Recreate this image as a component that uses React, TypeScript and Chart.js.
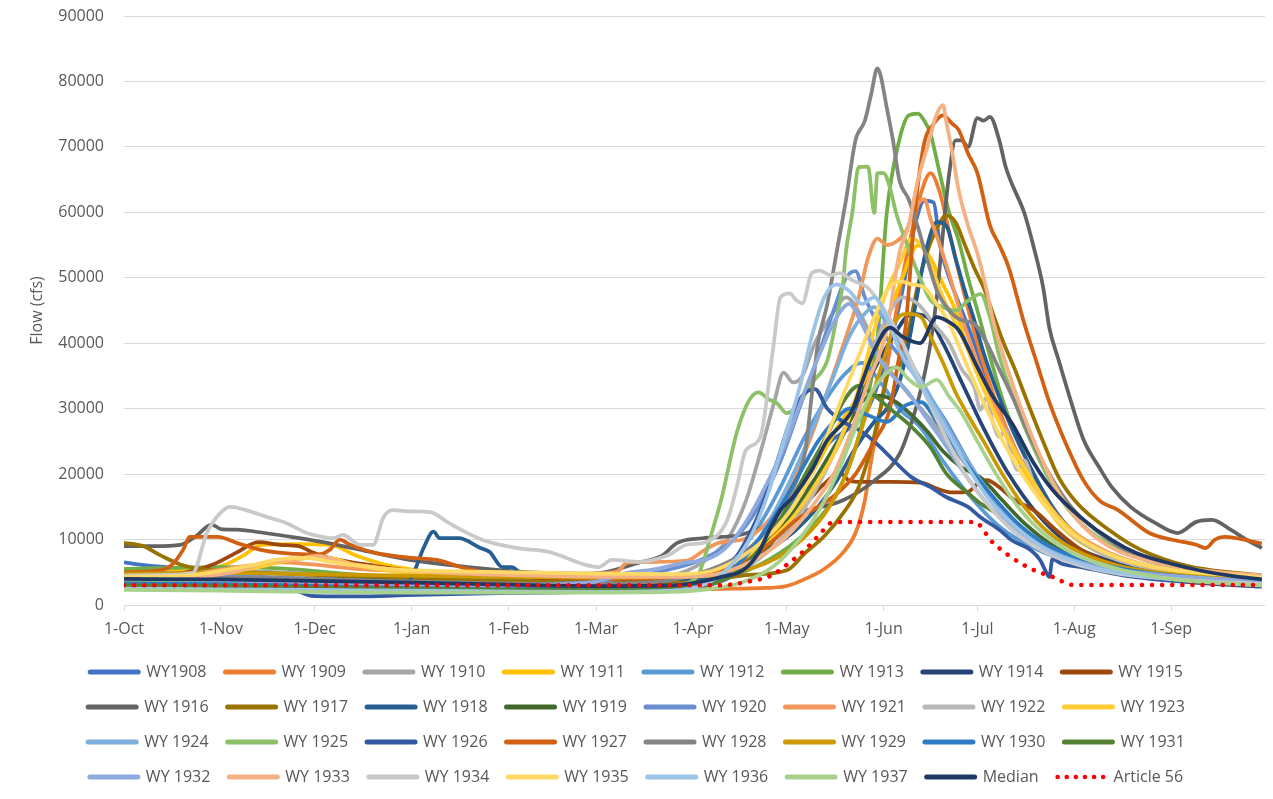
import React, { useEffect, useRef } from 'react';
import { Chart, registerables } from 'chart.js';

Chart.register(...registerables);

// ---- axis categories ----
const MONTH_DAYS = [0, 31, 61, 92, 123, 151, 182, 212, 243, 273, 304, 335];
const MONTH_LABELS = ['1-Oct', '1-Nov', '1-Dec', '1-Jan', '1-Feb', '1-Mar', '1-Apr', '1-May', '1-Jun', '1-Jul', '1-Aug', '1-Sep'];
const Y_MAX = 90000;
const Y_STEP = 10000;

// ---- series values: [day of water year, flow cfs] ----
const WY1908 = [[0,6500],[8,6000],[20,5500],[40,4500],[60,3500],[75,2500],[90,2400],[120,2300],[150,2200],[175,2400],[185,2800],[195,4500],[202,7000],[208,11000],[214,16000],[220,21000],[226,25000],[232,27000],[238,30000],[244,38000],[249,48000],[253,58000],[256,61800],[259,61500],[261,55000],[264,50000],[268,45000],[272,40000],[277,33000],[283,26000],[290,19000],[298,13500],[308,9500],[320,7000],[335,5200],[350,4300],[364,3800]];
const WY1909 = [[0,4200],[30,4000],[60,3700],[90,3400],[120,3000],[150,2700],[180,2400],[195,2500],[205,2600],[212,2900],[218,4000],[224,5500],[230,8000],[234,11000],[237,16000],[239,22000],[241,27000],[243,33000],[246,42000],[249,50000],[252,57000],[255,63000],[258,66000],[261,63000],[264,57000],[268,49000],[273,40000],[279,31000],[286,23000],[294,16000],[303,11000],[315,7500],[330,5500],[345,4600],[364,4000]];
const WY1910 = [[0,5000],[30,5200],[60,4800],[90,4200],[120,3800],[150,3600],[175,4500],[185,6500],[193,10000],[199,16000],[204,24000],[208,31000],[211,35500],[214,34000],[217,35000],[221,40000],[226,44000],[231,47000],[236,44000],[242,38000],[248,34000],[255,30000],[262,26000],[270,21000],[280,15000],[290,10500],[302,7500],[318,5500],[335,4500],[364,3800]];
const WY1911 = [[0,5500],[20,5500],[30,5800],[38,7500],[44,9200],[55,9300],[66,9200],[74,7600],[84,6100],[100,5000],[125,4600],[150,4300],[175,4200],[190,4800],[200,7000],[210,12000],[220,20000],[228,27000],[236,33000],[243,42000],[249,50000],[254,55000],[258,53000],[262,49000],[266,45000],[270,39000],[276,32000],[283,25000],[291,18000],[300,12000],[312,8000],[328,5500],[345,4500],[364,3800]];
const WY1912 = [[0,4500],[30,4300],[60,3600],[90,3000],[120,2800],[150,2700],[175,3000],[185,4000],[195,7000],[203,12000],[210,18000],[217,25000],[224,31000],[230,35000],[236,37000],[242,34000],[248,30000],[255,27000],[262,22000],[270,17000],[280,12000],[292,8500],[305,6300],[320,5000],[340,4200],[364,3500]];
const WY1913 = [[0,5500],[30,5800],[50,5600],[70,4800],[100,4000],[130,3600],[160,3300],[180,3400],[195,4500],[210,8000],[220,12000],[228,17000],[234,24000],[238,32000],[241,40500],[244,59900],[248,71000],[251,74800],[254,75100],[256,74000],[258,72000],[260,68000],[262,63800],[264,59900],[267,55700],[270,50000],[273,45000],[277,38000],[282,30000],[288,23000],[295,16000],[304,11000],[315,7500],[330,5500],[345,4600],[364,4000]];
const WY1914 = [[0,3800],[30,3700],[60,3500],[90,3300],[120,3000],[150,2900],[175,3100],[190,4000],[200,6500],[208,10000],[215,14000],[222,19000],[228,24000],[234,30000],[240,36000],[246,41000],[252,44500],[257,44000],[262,40000],[268,34000],[275,27000],[283,20000],[292,14000],[302,9500],[315,6800],[330,5200],[345,4400],[364,3700]];
const WY1915 = [[0,4500],[20,5000],[28,6100],[36,8000],[43,9600],[50,9200],[56,9000],[60,8100],[65,7300],[80,6000],[100,4800],[130,4200],[160,3800],[180,3800],[192,5000],[200,7000],[207,10000],[213,13000],[219,16000],[224,18500],[229,20200],[232,19000],[236,18800],[245,18800],[255,18700],[260,17800],[265,17200],[270,17300],[273,18500],[276,19100],[280,18000],[285,16000],[291,14500],[298,11500],[306,8500],[318,6000],[335,4500],[364,3500]];
const WY1916 = [[0,9000],[10,9000],[18,9200],[23,10500],[28,12300],[31,11600],[36,11500],[45,11000],[55,10300],[65,9500],[75,8500],[90,7000],[110,5800],[130,5000],[150,4800],[165,6500],[172,7500],[177,9500],[185,10200],[197,10700],[205,12000],[215,14000],[230,16000],[240,19000],[248,23000],[252,28000],[255,33000],[258,40000],[260,47000],[262,57000],[264,66000],[266,71000],[268,71000],[270,70000],[273,74400],[275,74000],[277,74600],[280,71000],[282,67000],[284,64400],[288,59900],[291,54700],[294,48600],[296,42400],[299,37400],[303,31000],[307,25200],[312,21000],[316,18000],[322,15000],[330,12500],[337,11000],[343,12700],[348,13000],[354,11500],[359,10000],[364,8700]];
const WY1917 = [[0,9500],[6,9000],[12,7500],[18,6200],[25,5500],[40,5000],[60,4600],[90,4000],[120,3700],[150,3500],[175,3600],[190,4000],[200,4600],[212,5300],[218,8000],[224,10500],[230,14000],[235,18000],[239,24000],[242,30000],[245,36000],[248,36500],[251,42000],[254,49000],[257,54000],[260,57500],[263,59500],[266,58500],[269,55000],[272,51500],[275,48500],[278,44500],[281,40500],[285,36000],[289,31000],[294,25000],[299,19500],[305,15500],[315,11500],[325,8500],[340,6000],[364,4500]];
const WY1918 = [[0,4300],[30,4200],[60,4000],[85,3700],[91,3600],[93,5300],[96,8900],[99,11200],[101,10200],[107,10200],[114,8700],[117,8100],[121,5800],[124,5800],[127,4900],[140,4300],[160,4000],[180,4000],[190,4500],[200,6500],[208,9000],[215,11500],[222,15000],[228,19000],[234,24000],[240,28000],[244,30000],[248,34000],[251,40000],[254,48000],[257,55000],[260,58500],[263,58000],[266,53000],[269,48000],[272,43500],[275,38500],[279,33000],[284,27000],[290,21000],[297,15000],[305,10500],[318,7000],[335,5200],[364,4000]];
const WY1919 = [[0,4000],[30,4200],[60,3800],[90,3300],[120,3000],[150,2900],[175,3100],[190,3800],[200,6000],[208,10000],[215,15000],[222,20000],[227,24000],[232,28000],[237,31500],[242,32000],[247,31000],[252,29000],[257,26500],[262,23500],[268,21000],[274,19500],[280,16500],[288,12500],[298,8800],[310,6200],[325,4800],[345,3900],[364,3400]];
const WY1920 = [[0,4800],[30,4500],[60,4000],[90,3500],[120,3200],[150,3500],[165,4500],[175,5500],[185,7000],[195,10000],[203,15000],[210,22000],[216,30000],[222,38000],[227,45000],[231,50000],[234,51000],[237,47000],[240,44000],[245,40000],[250,37000],[256,33000],[263,28000],[270,22000],[278,16000],[287,11500],[298,8200],[312,6000],[330,4800],[364,3800]];
const WY1921 = [[0,4500],[20,4800],[40,6000],[50,6500],[60,6200],[75,5500],[90,5200],[110,4800],[130,4600],[150,4800],[158,5200],[161,6500],[170,6600],[180,6800],[186,8500],[191,9600],[197,9900],[202,11000],[208,14000],[214,19000],[220,26000],[226,34000],[231,41000],[235,47000],[238,53000],[241,56000],[244,55000],[247,55500],[250,57000],[253,60500],[256,62000],[258,59000],[261,55000],[264,50500],[268,44000],[273,37000],[279,30000],[286,23000],[294,16500],[303,11500],[315,8000],[330,5800],[348,4700],[364,4200]];
const WY1922 = [[0,3500],[30,3600],[60,3400],[90,3000],[120,2800],[150,2700],[175,3000],[190,4000],[200,6000],[210,10000],[218,15000],[226,22000],[233,30000],[239,38000],[244,44000],[249,47000],[254,46000],[259,43000],[264,40000],[268,36000],[272,33300],[274,29800],[276,31800],[278,27800],[280,25700],[282,26700],[284,22600],[286,20600],[288,22100],[291,18600],[296,14500],[304,10500],[316,7200],[333,5200],[364,3800]];
const WY1923 = [[0,4500],[20,4600],[40,5500],[55,7000],[65,7200],[75,6000],[90,5000],[120,4800],[150,4700],[175,4500],[188,5000],[198,7000],[207,10000],[215,14000],[222,19000],[229,25000],[235,33000],[240,42000],[244,48000],[248,52000],[252,56000],[255,55000],[258,52000],[262,47000],[266,43000],[270,39000],[275,33000],[281,27000],[288,21000],[296,15000],[305,10500],[318,7200],[335,5300],[364,4000]];
const WY1924 = [[0,3000],[30,2800],[60,2600],[90,2400],[120,2300],[150,2200],[175,2500],[188,3500],[196,6000],[203,10000],[210,16000],[216,22000],[222,29000],[227,35000],[232,41000],[236,44000],[240,45500],[244,43000],[248,40000],[253,36000],[259,31000],[266,25000],[274,19000],[283,13500],[293,9500],[305,6800],[320,5000],[340,4000],[364,3200]];
const WY1925 = [[0,3500],[30,3400],[60,3200],[90,3000],[120,2800],[150,2700],[175,3000],[181,3500],[184,4900],[188,11000],[191,16000],[196,26300],[200,31300],[203,32500],[206,31500],[209,30800],[212,29300],[216,30800],[220,33900],[225,37400],[228,44000],[230,49200],[231,54200],[233,60000],[235,66900],[238,67000],[240,59900],[241,66000],[243,66000],[245,63800],[247,59900],[250,55700],[254,50700],[258,46600],[262,45500],[266,45000],[270,46500],[274,47500],[277,44000],[280,38000],[285,31000],[291,24000],[298,17500],[306,12500],[318,8500],[335,5800],[364,3800]];
const WY1926 = [[0,3200],[30,3000],[55,2200],[60,1400],[75,1300],[90,1500],[120,1800],[150,2000],[175,2300],[185,3000],[192,5000],[198,9000],[204,15000],[209,22000],[213,28000],[217,32000],[221,33000],[225,30000],[230,28000],[236,26500],[242,24100],[247,21700],[252,19500],[258,18000],[263,16500],[270,15000],[274,13400],[280,11500],[284,9900],[290,8400],[293,6900],[295,5000],[296,4300],[297,7000],[300,6300],[306,5800],[320,4500],[340,3500],[364,2800]];
const WY1927 = [[0,5000],[10,5200],[15,6000],[19,8500],[21,10400],[30,10400],[36,9500],[45,8300],[55,7800],[62,7700],[66,8500],[69,10000],[72,9300],[80,8000],[92,7200],[100,6900],[110,5500],[120,4700],[140,4200],[160,4000],[178,4200],[190,5000],[200,7000],[208,10000],[215,13000],[222,15000],[228,17000],[234,20000],[240,25000],[245,30000],[248,38000],[250,42400],[253,60000],[256,70600],[259,73500],[262,74800],[265,73500],[267,72600],[270,69000],[273,66000],[277,58000],[280,55000],[283,51600],[288,43000],[292,37000],[296,31000],[301,25000],[307,19000],[312,16000],[318,14500],[328,11000],[335,10000],[343,9200],[346,8700],[349,10000],[352,10400],[356,10200],[360,9800],[364,9400]];
const WY1928 = [[0,4000],[30,4200],[60,4000],[90,3600],[120,3300],[150,3200],[175,3800],[185,5000],[195,7000],[203,10000],[208,13000],[212,16000],[216,20000],[218,23700],[220,32000],[222,40000],[225,46000],[228,54000],[231,62000],[234,71000],[237,74000],[239,78000],[241,82000],[242,81000],[244,76000],[246,71000],[248,65000],[251,62000],[254,57700],[257,52700],[260,48100],[264,45000],[268,43500],[272,43000],[276,40000],[280,36000],[285,31000],[290,25500],[296,20000],[303,15000],[312,11000],[322,8000],[335,6000],[350,4800],[364,4200]];
const WY1929 = [[0,4800],[30,4900],[60,4700],[90,4500],[120,4300],[150,4200],[175,4300],[190,4600],[200,5500],[210,7500],[218,10500],[225,14500],[231,20000],[236,27000],[240,33000],[244,39000],[247,43500],[251,44500],[255,44000],[258,41000],[262,37000],[266,32500],[270,29000],[275,25000],[281,20000],[288,15000],[296,11000],[306,8000],[320,5800],[340,4500],[364,3800]];
const WY1930 = [[0,3300],[30,3200],[60,3000],[90,2800],[120,2600],[150,2500],[175,2700],[188,3500],[196,6000],[203,10000],[210,15000],[216,20000],[222,25000],[227,28000],[232,30000],[238,29000],[244,28000],[250,30500],[255,31000],[260,28000],[266,24000],[272,20000],[279,16000],[287,12000],[296,9000],[308,6800],[322,5300],[340,4300],[364,3500]];
const WY1931 = [[0,3000],[30,2900],[60,2700],[90,2500],[120,2400],[150,2300],[175,2500],[188,3200],[196,5000],[204,9000],[211,14000],[218,20000],[225,26000],[230,31000],[235,33500],[240,32000],[245,30000],[252,27200],[258,24100],[263,20100],[270,17100],[274,15500],[279,14000],[287,11000],[296,8200],[308,6000],[322,4700],[340,3700],[364,3100]];
const WY1932 = [[0,4000],[30,3800],[60,3500],[90,3200],[120,3000],[150,3500],[160,4800],[170,5500],[180,6500],[186,6900],[192,8500],[198,12000],[204,17000],[211,24000],[218,33000],[224,40000],[228,44000],[232,46000],[236,43000],[240,39000],[244,36000],[250,33000],[256,29000],[262,25000],[269,20000],[277,15000],[286,11000],[297,8000],[310,6000],[330,4700],[364,3600]];
const WY1933 = [[0,4000],[20,4200],[35,5000],[45,6500],[55,7000],[62,7500],[70,6500],[85,5500],[100,5000],[130,4500],[160,4300],[180,4300],[192,5000],[202,7000],[212,10500],[220,15000],[227,20000],[233,27000],[238,34000],[244,42000],[248,53700],[251,58000],[254,65000],[257,70000],[260,75000],[262,76400],[263,74000],[265,69000],[267,63400],[270,58000],[273,53700],[276,48000],[278,43500],[282,37000],[287,30000],[292,24000],[298,18000],[305,13000],[315,9000],[330,6500],[345,5300],[364,4500]];
const WY1934 = [[0,4500],[15,4600],[22,4900],[26.5,11000],[30.7,14000],[34,15000],[39,14500],[46,13400],[52,12500],[58.5,11000],[63.7,10400],[67,10200],[70,10700],[75.5,9200],[79.7,9200],[83,13400],[86,14500],[92,14300],[98,14200],[104,12500],[115,9900],[126,8700],[136,8100],[148,6100],[152,5800],[156,6900],[165,6600],[174,7600],[180,9200],[186,9600],[193,13000],[196,18000],[199,23700],[203.5,25600],[207.6,39000],[210,47000],[213,47600],[215,46600],[217,46100],[220,50700],[222.6,51100],[226,50400],[229,50700],[233,49600],[237.6,48600],[242,46000],[247,42000],[252,37000],[257,31500],[263,25500],[269,20000],[276,15500],[284,11500],[293,8500],[304,6300],[318,4800],[340,3800],[364,3200]];
const WY1935 = [[0,4300],[20,4500],[40,6000],[50,7000],[58,7200],[66,6600],[75,6000],[85,5500],[100,5200],[125,5000],[150,4800],[175,4700],[188,5200],[198,7500],[207,11000],[214,15000],[220,20000],[225,26000],[230,32000],[235,38000],[240,44000],[244,48000],[248,49500],[252,49000],[256,48500],[260,46000],[264,43000],[268,38500],[273,33000],[279,27000],[286,21000],[294,15500],[303,11000],[315,7800],[330,5800],[364,4200]];
const WY1936 = [[0,2500],[30,2400],[60,2300],[90,2200],[120,2100],[150,2000],[175,2200],[185,3000],[193,5500],[200,10000],[206,17000],[211,25000],[216,33000],[220,41000],[224,47000],[228,49000],[232,48000],[236,46000],[240,47000],[244,44000],[248,39000],[253,35000],[258,31000],[264,26000],[270,21000],[277,16000],[285,12000],[295,8500],[308,6000],[325,4500],[345,3600],[364,3000]];
const WY1937 = [[0,2300],[30,2200],[60,2000],[90,1900],[120,1900],[150,1900],[175,2000],[188,2500],[198,3500],[208,6000],[216,10000],[223,15000],[229,21000],[234,27000],[239,32400],[243,35000],[247,36300],[251,34500],[255,33300],[260,34400],[264,31800],[268,29300],[273,25000],[279,20000],[286,15000],[294,11000],[304,7800],[318,5500],[335,4000],[364,3000]];
const MEDIAN = [[0,4000],[30,3900],[60,3700],[92,3400],[123,3100],[151,2900],[175,3000],[184,3500],[191,4300],[198,5300],[203,8000],[206,11000],[210,14500],[214,16500],[220,20600],[225,25200],[230,27800],[233,29800],[236,33900],[240,38900],[245,42400],[249,41000],[254.6,40000],[260,44000],[263,43500],[267,42000],[273,36300],[278,31800],[284,27800],[291,21700],[297,17600],[306,13400],[316,9900],[324,7900],[335,6300],[345,5200],[355,4400],[364,3900]];
const ARTICLE56 = [[0,3000],[190,3000],[200,3600],[207,4500],[213,6500],[218,8500],[222,10500],[226,12500],[228,12700],[272,12700],[278,9500],[289,5800],[297,4300],[304,3050],[364,3050]];

const SERIES_LABELS = ['WY1908','WY 1909','WY 1910','WY 1911','WY 1912','WY 1913','WY 1914','WY 1915','WY 1916','WY 1917','WY 1918','WY 1919','WY 1920','WY 1921','WY 1922','WY 1923','WY 1924','WY 1925','WY 1926','WY 1927','WY 1928','WY 1929','WY 1930','WY 1931','WY 1932','WY 1933','WY 1934','WY 1935','WY 1936','WY 1937','Median','Article 56'];
const SERIES_VALUES = [WY1908,WY1909,WY1910,WY1911,WY1912,WY1913,WY1914,WY1915,WY1916,WY1917,WY1918,WY1919,WY1920,WY1921,WY1922,WY1923,WY1924,WY1925,WY1926,WY1927,WY1928,WY1929,WY1930,WY1931,WY1932,WY1933,WY1934,WY1935,WY1936,WY1937,MEDIAN,ARTICLE56];
const SERIES_COLORS = ['#4472c4','#ed7d31','#a5a5a5','#ffc000','#5b9bd5','#70ad47','#264478','#9e480e','#636363','#997300','#255e91','#43682b','#698ed0','#f1975a','#b7b7b7','#ffcd33','#7cafdd','#8cc168','#335aa1','#d26012','#848484','#cc9a00','#2e7dc4','#548235','#8faadc','#f4b183','#c9c9c9','#ffd966','#9dc3e6','#a9d18e','#203864','#ff0000'];

const FONT = "'Open Sans', 'Noto Sans', sans-serif";
const TEXT_COLOR = '#595959';
const GRID_COLOR = '#d9d9d9';

export default function App() {
  const canvasRef = useRef<HTMLCanvasElement | null>(null);

  useEffect(() => {
    if (!canvasRef.current) return;
    const n = SERIES_LABELS.length;
    const datasets = SERIES_LABELS.map((label, i) => {
      const dotted = label === 'Article 56';
      return {
        label,
        data: SERIES_VALUES[i].map(([x, y]) => ({ x, y })),
        borderColor: SERIES_COLORS[i],
        backgroundColor: SERIES_COLORS[i],
        borderWidth: dotted ? 4.5 : 3.75,
        borderDash: dotted ? [0.1, 10] : [],
        borderCapStyle: dotted ? 'round' : 'butt',
        borderJoinStyle: 'round',
        pointRadius: 0,
        pointHoverRadius: 0,
        cubicInterpolationMode: 'monotone',
        fill: false,
        order: n - i,
      };
    });

    const defaultGen = (Chart.defaults as any).plugins.legend.labels.generateLabels;

    const chart = new Chart(canvasRef.current, {
      type: 'line',
      data: { datasets: datasets as any },
      options: {
        animation: false,
        responsive: true,
        maintainAspectRatio: false,
        events: [],
        layout: { padding: { top: 0, right: 0, bottom: 0, left: 0 } },
        plugins: {
          tooltip: { enabled: false },
          legend: {
            position: 'bottom',
            labels: {
              usePointStyle: true,
              pointStyle: 'line',
              pointStyleWidth: 48,
              padding: 19,
              color: TEXT_COLOR,
              font: { family: FONT, size: 16 },
              sort: (a: any, b: any) => a.datasetIndex - b.datasetIndex,
              generateLabels: (ch: any) => {
                const items = defaultGen(ch);
                items.forEach((it: any) => {
                  const ds = ch.data.datasets[it.datasetIndex];
                  const dotted = ds.label === 'Article 56';
                  it.strokeStyle = ds.borderColor;
                  it.fillStyle = ds.borderColor;
                  it.lineDash = dotted ? [0.1, 9] : [];
                  it.lineCap = dotted ? 'round' : 'round';
                  it.lineWidth = dotted ? 4.5 : 5;
                  it.pointStyle = 'line';
                });
                return items;
              },
            },
          },
        },
        scales: {
          x: {
            type: 'linear',
            min: 0,
            max: 365,
            afterBuildTicks: (scale: any) => {
              scale.ticks = MONTH_DAYS.map((v) => ({ value: v }));
            },
            afterFit: (scale: any) => {
              scale.height = 40;
            },
            ticks: {
              autoSkip: false,
              maxRotation: 0,
              padding: 9,
              color: TEXT_COLOR,
              font: { family: FONT, size: 16 },
              callback: (value: any) => {
                const idx = MONTH_DAYS.indexOf(Number(value));
                return idx >= 0 ? MONTH_LABELS[idx] : '';
              },
            },
            grid: {
              drawOnChartArea: false,
              drawTicks: true,
              tickLength: 6,
              color: GRID_COLOR,
            },
            border: { display: true, color: GRID_COLOR, width: 1 },
          },
          y: {
            min: 0,
            max: Y_MAX,
            afterFit: (scale: any) => {
              scale.width = 116;
            },
            ticks: {
              stepSize: Y_STEP,
              padding: 0,
              color: TEXT_COLOR,
              font: { family: FONT, size: 16, lineHeight: 1 },
              callback: (value: any) => String(value),
            },
            grid: {
              color: GRID_COLOR,
              drawTicks: true,
              tickLength: 20,
              tickColor: 'rgba(0,0,0,0)',
              lineWidth: 1,
            },
            border: { display: false },
            title: {
              display: true,
              text: 'Flow (cfs)',
              color: TEXT_COLOR,
              font: { family: FONT, size: 16 },
              padding: { top: 20, bottom: 0 },
            },
          },
        },
      },
    });
    return () => chart.destroy();
  }, []);

  return (
    <div style={{ position: 'relative', width: 1257, height: 787, marginBottom: -8 }}>
      <canvas ref={canvasRef} />
    </div>
  );
}
